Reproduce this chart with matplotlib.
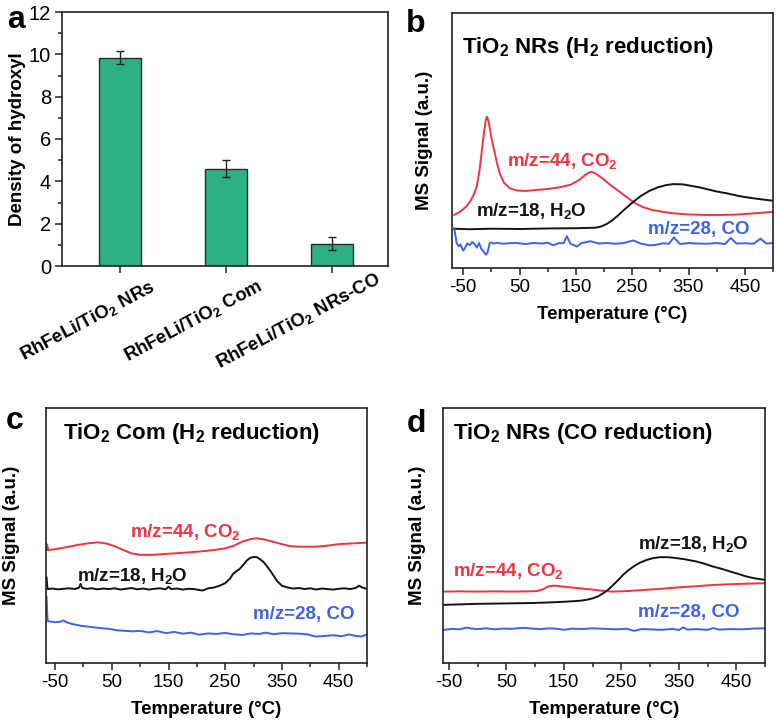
import matplotlib
matplotlib.use("Agg")
import matplotlib.pyplot as plt
from matplotlib.ticker import MultipleLocator
from matplotlib.transforms import ScaledTranslation

plt.rcParams['font.family'] = ['Liberation Sans', 'DejaVu Sans']
plt.rcParams['mathtext.fontset'] = 'custom'
plt.rcParams['mathtext.bf'] = 'Liberation Sans:bold'
plt.rcParams['mathtext.rm'] = 'Liberation Sans'
plt.rcParams['mathtext.it'] = 'Liberation Sans:italic'
plt.rcParams['mathtext.default'] = 'bf'
plt.rcParams['axes.unicode_minus'] = False

# ---------------- data ----------------
# panel a
categories = ["RhFeLi/TiO$_2$ NRs", "RhFeLi/TiO$_2$ Com", "RhFeLi/TiO$_2$ NRs-CO"]
hydroxyl = [9.84, 4.6, 1.05]
hydroxyl_err = [0.3, 0.4, 0.3]

# panel b: TiO2 NRs (H2 reduction)
b_co2_T = [-66, -55, -45, -38, -32, -26, -21, -17, -13, -10, -8, -5, 0, 4, 10, 15, 22, 33, 45, 60,
           80, 100, 120, 140, 155, 165, 172, 178, 185, 195, 210, 225, 240, 255, 270, 285, 300, 320,
           350, 380, 410, 440, 470, 500]
b_co2_V = [20.8, 22.2, 24.0, 26.0, 28.5, 32.0, 38.5, 46.0, 53.5, 58.0, 59.3, 57.5, 51.0, 47.0, 41.0,
           37.0, 33.5, 31.2, 30.4, 30.2, 30.6, 31.0, 31.6, 32.6, 34.4, 36.2, 37.3, 37.8, 37.0, 35.5,
           32.8, 30.3, 27.8, 25.4, 23.8, 22.8, 22.2, 21.5, 21.0, 20.8, 20.8, 21.0, 21.5, 22.0]
b_h2o_T = [-66, -40, 0, 50, 100, 150, 185, 195, 205, 215, 225, 235, 250, 265, 280, 295, 310, 323,
           340, 355, 370, 385, 400, 420, 440, 460, 480, 500]
b_h2o_V = [15.4, 15.2, 15.4, 15.3, 15.5, 15.6, 15.8, 16.3, 17.3, 18.8, 20.6, 22.7, 25.6, 28.2, 30.2,
           31.6, 32.5, 32.9, 32.8, 32.2, 31.6, 30.8, 30.0, 29.2, 28.2, 27.5, 26.9, 26.4]
b_co_T = [-66, -62, -58, -55, -50, -47, -43, -38, -34, -30, -26, -22, -18, -14, -10, -7, -3, 0, 4, 10,
          20, 30, 45, 60, 75, 90, 100, 110, 120, 128, 134, 140, 152, 160, 176, 190, 205, 220, 235, 252,
          265, 280, 290, 305, 315, 324, 335, 350, 365, 383, 400, 415, 425, 435, 450, 465, 478, 488, 500]
b_co_V = [15.5, 10.0, 8.5, 9.2, 6.8, 7.8, 9.6, 9.0, 10.2, 9.4, 8.0, 9.8, 7.5, 6.5, 5.2, 6.0, 9.8, 10.0,
          9.6, 9.9, 9.5, 9.7, 9.8, 9.4, 9.8, 9.6, 9.9, 8.9, 9.8, 9.7, 12.5, 9.6, 8.4, 9.8, 10.5, 9.6,
          9.8, 9.5, 9.8, 10.8, 9.6, 8.9, 9.0, 9.7, 9.5, 12.0, 9.4, 9.8, 9.6, 9.5, 9.8, 9.4, 11.8, 9.6,
          9.7, 9.5, 11.5, 9.6, 9.8]

# panel c: TiO2 Com (H2 reduction)
c_co2_T = [-65, -64, -62, -50, -30, -10, 10, 25, 40, 55, 70, 85, 100, 120, 146, 175, 204, 230, 251,
           265, 280, 295, 305, 318, 333, 350, 365, 380, 409, 430, 450, 475, 500]
c_co2_V = [44.3, 46.5, 44.3, 44.6, 45.4, 46.3, 47.0, 47.3, 46.9, 45.8, 44.3, 43.0, 42.4, 42.4, 42.8,
           43.2, 43.7, 44.3, 45.0, 46.0, 47.6, 48.6, 48.9, 48.5, 47.6, 46.6, 45.8, 45.6, 45.6, 46.0,
           46.6, 46.9, 47.2]
c_h2o_T = [-65, -64, -63, -55, -45, -35, -25, -15, -8, -5, -2, 5, 15, 25, 35, 45, 55, 65, 75, 85,
           95, 105, 115, 125, 135, 145, 150, 155, 165, 175, 185, 195, 205, 210, 220, 230, 240, 250,
           258, 264, 270, 276, 282, 288, 294, 300, 306, 312, 318, 324, 330, 336, 342, 350, 360, 370,
           380, 390, 400, 410, 420, 430, 440, 450, 460, 470, 480, 486, 492, 500]
c_h2o_V = [33.5, 30.5, 29.0, 29.2, 28.9, 29.1, 29.3, 29.0, 29.5, 31.0, 29.4, 29.1, 29.3, 28.9, 29.2,
           29.0, 29.3, 28.8, 29.1, 29.4, 28.9, 29.2, 28.8, 29.1, 29.3, 28.9, 29.9, 29.0, 29.2, 28.8,
           29.1, 29.0, 28.6, 28.4, 29.3, 29.6, 30.3, 31.3, 33.0, 35.0, 36.0, 37.0, 38.5, 40.2, 41.2,
           41.6, 41.5, 40.6, 39.5, 37.8, 36.0, 34.0, 32.0, 30.3, 29.6, 29.2, 29.4, 29.0, 29.3, 28.8,
           29.2, 29.0, 28.8, 29.1, 29.3, 29.0, 29.4, 30.3, 29.6, 29.0]
c_co_T = [-65, -64, -63, -60, -50, -40, -35, -30, -20, -5, 10, 29, 45, 60, 75, 87, 100, 115, 130, 146,
          160, 175, 190, 204, 220, 235, 250, 263, 280, 295, 310, 321, 335, 350, 365, 380, 395, 409,
          425, 440, 455, 468, 480, 490, 500]
c_co_V = [26.0, 20.0, 16.5, 16.3, 16.0, 16.2, 16.7, 16.0, 15.3, 14.6, 14.2, 13.7, 13.4, 12.8, 12.6,
          12.4, 12.6, 12.0, 12.5, 11.7, 12.2, 11.5, 11.9, 11.1, 11.6, 11.4, 11.8, 11.3, 11.0, 11.6,
          11.4, 11.9, 11.3, 11.7, 11.6, 11.5, 11.2, 10.4, 10.6, 10.9, 10.5, 11.2, 10.6, 10.4, 11.2]

# panel d: TiO2 NRs (CO reduction)
d_co2_T = [-58, -30, 0, 30, 60, 90, 103, 110, 115, 120, 126, 135, 144, 160, 178, 195, 207, 222, 236,
           260, 294, 320, 352, 380, 410, 440, 470, 500]
d_co2_V = [28.0, 28.1, 28.0, 28.1, 28.0, 28.1, 28.2, 28.6, 29.0, 29.7, 30.2, 30.3, 30.1, 29.7, 29.3,
           28.9, 28.6, 28.2, 28.0, 28.2, 28.7, 29.1, 29.7, 30.1, 30.6, 30.9, 31.1, 31.3]
d_h2o_T = [-58, -30, 0, 30, 60, 90, 119, 150, 178, 190, 201, 210, 219, 228, 236, 245, 253, 262, 271,
           282, 294, 305, 317, 330, 340, 360, 381, 395, 410, 425, 439, 454, 468, 482, 500]
d_h2o_V = [22.8, 23.0, 23.2, 23.3, 23.4, 23.5, 23.7, 24.0, 24.4, 24.8, 25.4, 26.2, 27.4, 28.9, 30.6,
           32.6, 34.5, 36.3, 37.8, 39.3, 40.4, 41.1, 41.5, 41.5, 41.3, 40.7, 39.8, 38.9, 37.8, 36.9,
           35.9, 34.9, 33.9, 33.2, 32.6]
d_co_T = [-58, -45, -30, -20, -10, 0, 15, 30, 45, 60, 80, 95, 110, 125, 140, 150, 165, 180, 200, 220,
          240, 260, 272, 285, 300, 320, 340, 350, 358, 365, 380, 400, 410, 420, 440, 460, 480, 500]
d_co_V = [13.0, 13.4, 13.2, 13.9, 13.5, 13.3, 13.6, 13.2, 13.5, 13.4, 13.8, 13.5, 13.3, 13.6, 13.4,
          13.0, 13.5, 13.3, 13.6, 13.4, 13.2, 13.4, 12.6, 13.3, 13.2, 13.0, 13.4, 12.9, 14.0, 13.1,
          13.3, 13.0, 13.7, 13.1, 13.3, 13.2, 13.5, 13.6]

temp_ticks = [-50, 50, 150, 250, 350, 450]

# ---------------- style ----------------
RED = '#EE3343'
BLUE = '#3F63E6'
BLACK = '#141414'
GREEN = '#2DB083'
FS = 13.5
TITLE_FS = 16
LETTER_FS = 23

W, H = 777, 724
fig = plt.figure(figsize=(W / 100, H / 100), dpi=100)


def add_axes(l, t, r, b):
    return fig.add_axes([l / W, 1 - b / H, (r - l) / W, (b - t) / H])


def style_axes(ax):
    for s in ax.spines.values():
        s.set_linewidth(1.2)
        s.set_color('#222222')
    ax.tick_params(which='both', direction='out', top=False, right=False, width=1.1,
                   labelsize=FS, color='#222222', pad=3)
    ax.tick_params(which='major', length=5)
    ax.tick_params(which='minor', length=3)


# ---------- panel a ----------
axa = add_axes(62, 12, 388, 266)
xpos = list(range(len(categories)))
axa.bar(xpos, hydroxyl, width=0.4, color=GREEN, edgecolor='#2a2a2a', linewidth=1.0,
        yerr=hydroxyl_err, error_kw=dict(ecolor='#222222', elinewidth=1.0, capsize=3, capthick=1.0))
axa.set_xlim(-0.55, 2.53)
axa.set_ylim(0, 12)
axa.yaxis.set_major_locator(MultipleLocator(2))
axa.yaxis.set_minor_locator(MultipleLocator(1))
axa.set_xticks(xpos)
axa.set_xticklabels([])
style_axes(axa)
axa.tick_params(axis='y', labelsize=14.5)
axa.set_ylabel('Density of hydroxyl', fontsize=FS, fontweight='bold', labelpad=2)
off = ScaledTranslation(-33 / 100, -55 / 100, fig.dpi_scale_trans)
for x, lab in zip(xpos, categories):
    axa.text(x, 0, lab, transform=axa.get_xaxis_transform() + off, rotation=28,
             rotation_mode='anchor', ha='center', va='center', fontsize=13.3, fontweight='bold')
fig.text(16 / W, 1 - 20 / H, 'a', fontsize=LETTER_FS, fontweight='bold', ha='center', va='center')


def ms_panel(ax, xlim, series, title, title_pos, labels, ylabelpad):
    for T, V, c in series:
        ax.plot(T, V, color=c, lw=1.4)
    ax.set_xlim(*xlim)
    ax.set_ylim(0, 100)
    ax.set_yticks([])
    ax.set_xticks(temp_ticks)
    ax.xaxis.set_minor_locator(MultipleLocator(50))
    style_axes(ax)
    ax.set_xlabel('Temperature (°C)', fontsize=FS, fontweight='bold', labelpad=7)
    ax.set_ylabel('MS Signal (a.u.)', fontsize=FS, fontweight='bold', labelpad=ylabelpad)
    ax.text(title_pos[0], title_pos[1], title, transform=ax.transAxes, fontsize=TITLE_FS,
            fontweight='bold', ha='left', va='center')
    for txt, fx, fy, c in labels:
        ax.text(fx, fy, txt, transform=ax.transAxes, fontsize=FS, fontweight='bold', color=c,
                ha='left', va='center')


CO2 = 'm/z=44, CO$_2$'
H2O = 'm/z=18, H$_2$O'
CO = 'm/z=28, CO'

# ---------- panel b ----------
axb = add_axes(452, 13, 773, 268)
ms_panel(axb, (-70, 500),
         [(b_co2_T, b_co2_V, RED), (b_h2o_T, b_h2o_V, BLACK), (b_co_T, b_co_V, BLUE)],
         'TiO$_2$ NRs (H$_2$ reduction)', (0.03, 0.865),
         [(CO2, 0.172, 0.42, RED), (H2O, 0.076, 0.225, BLACK), (CO, 0.61, 0.15, BLUE)], 14)
fig.text(416 / W, 1 - 24 / H, 'b', fontsize=LETTER_FS, fontweight='bold', ha='center', va='center')

# ---------- panel c ----------
axc = add_axes(46, 408, 367, 663)
ms_panel(axc, (-66, 500),
         [(c_co2_T, c_co2_V, RED), (c_h2o_T, c_h2o_V, BLACK), (c_co_T, c_co_V, BLUE)],
         'TiO$_2$ Com (H$_2$ reduction)', (0.052, 0.90),
         [(CO2, 0.262, 0.515, RED), (H2O, 0.097, 0.34, BLACK), (CO, 0.645, 0.19, BLUE)], 19)
fig.text(15 / W, 1 - 421 / H, 'c', fontsize=LETTER_FS, fontweight='bold', ha='center', va='center')

# ---------- panel d ----------
axd = add_axes(443, 408, 765, 663)
ms_panel(axd, (-60, 500),
         [(d_co2_T, d_co2_V, RED), (d_h2o_T, d_h2o_V, BLACK), (d_co_T, d_co_V, BLUE)],
         'TiO$_2$ NRs (CO reduction)', (0.031, 0.90),
         [(H2O, 0.606, 0.465, BLACK), (CO2, 0.031, 0.36, RED), (CO, 0.606, 0.197, BLUE)], 12)
fig.text(416 / W, 1 - 424 / H, 'd', fontsize=LETTER_FS, fontweight='bold', ha='center', va='center')

fig.savefig('out.png', dpi=100)
